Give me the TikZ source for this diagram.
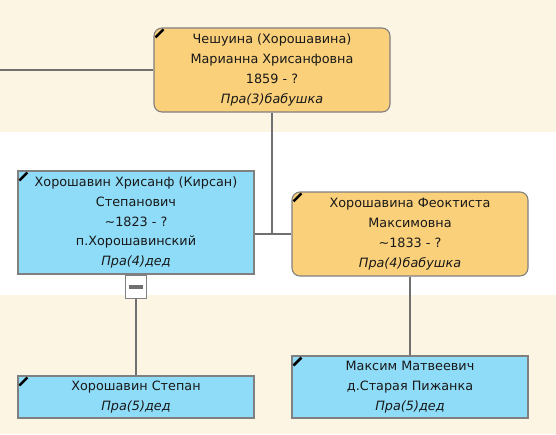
\documentclass[tikz,border=0pt]{standalone}
\usepackage{fontspec}
\setmainfont{DejaVu Sans}
\usetikzlibrary{positioning, calc}
\definecolor{bandcream}{RGB}{253, 245, 228}
\definecolor{femfill}{RGB}{250, 208, 122}
\definecolor{malefill}{RGB}{143, 220, 248}
\definecolor{boxgray}{RGB}{128, 128, 128}
\definecolor{linegray}{RGB}{112, 112, 112}
\definecolor{inktext}{RGB}{25, 25, 25}

\tikzset{
    person/.style={draw=boxgray, line width=1.1pt, text=inktext, align=center,
        minimum width=236pt, inner sep=0pt, font=\fontsize{12.8}{19.8}\selectfont},
    female/.style={person, fill=femfill, rounded corners=8pt},
    male/.style={person, fill=malefill},
    link/.style={draw=linegray, line width=2pt},
    cornermark/.style={line width=2.6pt, black}
}

\begin{document}
\begin{tikzpicture}[x=1pt, y=-1pt]
    \useasboundingbox (0,0) rectangle (556,434);
    % generation bands
    \fill[bandcream] (0,0) rectangle (556,132);
    \fill[white] (0,132) rectangle (556,295);
    \fill[bandcream] (0,295) rectangle (556,434);

    \node[female, minimum height=84pt] (cheshuina) at (272,70) {
        Чешуина (Хорошавина) \\ Марианна Хрисанфовна \\ 1859 - ? \\ \textit{Пра(3)бабушка}
    };
    \node[male, minimum height=103pt] (hrisanf) at (136,222.5) {
        Хорошавин Хрисанф (Кирсан) \\ Степанович \\ \textasciitilde1823 - ? \\ п.Хорошавинский \\ \textit{Пра(4)дед}
    };
    \node[female, minimum height=84pt] (feoktista) at (410,234) {
        Хорошавина Феоктиста \\ Максимовна \\ \textasciitilde1833 - ? \\ \textit{Пра(4)бабушка}
    };
    \node[male, minimum height=42pt] (stepan) at (136,397) {
        Хорошавин Степан \\ \textit{Пра(5)дед}
    };
    \node[male, minimum height=62pt] (maksim) at (410,387) {
        Максим Матвеевич \\ д.Старая Пижанка \\ \textit{Пра(5)дед}
    };
    \node[draw=boxgray, fill=white, line width=1.1pt, minimum width=21pt, minimum height=23pt,
        inner sep=0pt, anchor=north] (collapse) at (136,275) {};
    \fill[linegray] ($(collapse.center)+(-7,-2)$) rectangle ($(collapse.center)+(7,2)$);

    % connectors
    \coordinate (leftend) at (0,70);
    \draw[link] (leftend) -- (cheshuina.west);
    \draw[link] (cheshuina.south) -- (cheshuina.south |- feoktista.west);
    \draw[link] (hrisanf.east |- feoktista.west) -- (feoktista.west);
    \draw[link] (collapse.south) -- (stepan.north);
    \draw[link] (feoktista.south) -- (maksim.north);

    % corner marks
    \foreach \p in {cheshuina, hrisanf, feoktista, stepan, maksim}
        \draw[cornermark] ([shift={(2,10)}]\p.north west) -- ([shift={(10,2)}]\p.north west);
\end{tikzpicture}
\end{document}
